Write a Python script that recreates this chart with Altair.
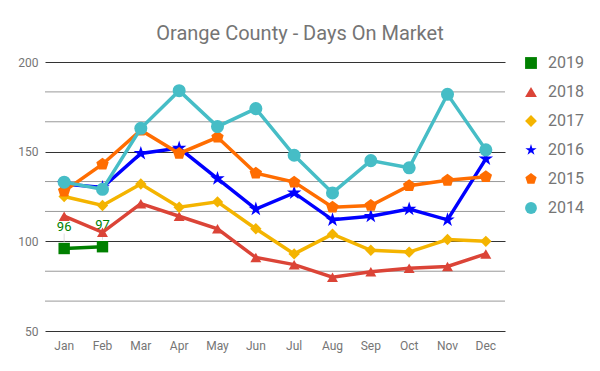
import altair as alt
import pandas as pd

months = ["Jan", "Feb", "Mar", "Apr", "May", "Jun", "Jul", "Aug", "Sep", "Oct", "Nov", "Dec"]
years = ["2019", "2018", "2017", "2016", "2015", "2014"]

v2019 = [96, 97]
v2018 = [114, 105, 121, 114, 107, 91, 87, 80, 83, 85, 86, 93]
v2017 = [125, 120, 132, 119, 122, 107, 93, 104, 95, 94, 101, 100]
v2016 = [132, 130, 149, 152, 135, 118, 127, 112, 114, 118, 112, 146]
v2015 = [128, 143, 162, 149, 158, 138, 133, 119, 120, 131, 134, 136]
v2014 = [133, 129, 163, 184, 164, 174, 148, 127, 145, 141, 182, 151]

series = {"2019": v2019, "2018": v2018, "2017": v2017,
          "2016": v2016, "2015": v2015, "2014": v2014}

colors = ["#008000", "#db4437", "#f4b400", "#0000ff", "#ff6d01", "#46bdc6"]
star = "M0,-1L0.2245,-0.309L0.951,-0.309L0.363,0.118L0.588,0.809L0,0.382L-0.588,0.809L-0.363,0.118L-0.951,-0.309L-0.2245,-0.309Z"
pentagon = "M0,-1L0.951,-0.309L0.588,0.809L-0.588,0.809L-0.951,-0.309Z"
shapes = ["square", "triangle-up", "diamond", star, pentagon, "circle"]
sizes = [130, 120, 130, 230, 170, 170]

major_ticks = [50, 100, 150, 200]
minor_grid = [66.67, 83.33, 116.67, 133.33, 166.67, 183.33]

rows = []
for y in years:
    for m, v in zip(months, series[y]):
        rows.append({"month": m, "year": y, "value": v})
df = pd.DataFrame(rows)

x_enc = alt.X("month:O", sort=months, title=None,
              axis=alt.Axis(labelAngle=0, domain=False, ticks=False, grid=False,
                            labelColor="#757575", labelFontSize=12, labelPadding=9))
y_enc = alt.Y("value:Q", title=None,
              scale=alt.Scale(domain=[50, 200], nice=False, zero=False),
              axis=alt.Axis(values=major_ticks, domain=False, ticks=False, grid=True,
                            gridColor="#333333", gridWidth=1,
                            labelColor="#757575", labelFontSize=12, labelPadding=7))

minor = alt.Chart(pd.DataFrame({"g": minor_grid})).mark_rule(
    color="#999999", strokeWidth=1).encode(y=alt.Y("g:Q", scale=alt.Scale(domain=[50, 200], nice=False, zero=False)))

layers = [minor]
for y, c, s, sz in zip(years, colors, shapes, sizes):
    d = df[df.year == y]
    line = alt.Chart(d).mark_line(color=c, strokeWidth=3.5).encode(x=x_enc, y=y_enc)
    pts = alt.Chart(d).mark_point(filled=True, opacity=1, size=sz).encode(
        x=x_enc, y=y_enc,
        color=alt.Color("year:N", title=None,
                        scale=alt.Scale(domain=years, range=colors),
                        legend=alt.Legend(orient="none", legendX=478, legendY=-7,
                                          symbolSize=140, labelFontSize=16,
                                          labelColor="#757575", rowPadding=13,
                                          labelOffset=9, padding=0,
                                          symbolStrokeWidth=0)),
        shape=alt.Shape("year:N", scale=alt.Scale(domain=years, range=shapes), title=None))
    layers.append(line)
    layers.append(pts)
    if y == "2019":
        lead = alt.Chart(d).mark_rule(color="#dddddd", strokeWidth=1, yOffset=-7, y2Offset=-15).encode(
            x=x_enc, y=y_enc, y2="value:Q")
        txt = alt.Chart(d).mark_text(color="#008000", fontSize=13, dy=-22).encode(
            x=x_enc, y=y_enc, text="value:Q")
        layers.insert(1, lead)
        layers.append(txt)

chart = alt.layer(*layers).properties(
    width=460, height=269,
    title=alt.TitleParams("Orange County - Days On Market", fontSize=20, color="#757575",
                          font="Roboto", fontWeight="normal", anchor="middle", dx=25, offset=11),
    autosize=alt.AutoSizeParams(type="none"),
    padding={"left": 37, "top": 54, "right": 80, "bottom": 25},
).configure(font="Roboto").configure_view(stroke=None)

chart.save("out.html", embed_options={"renderer": "svg", "actions": False})
